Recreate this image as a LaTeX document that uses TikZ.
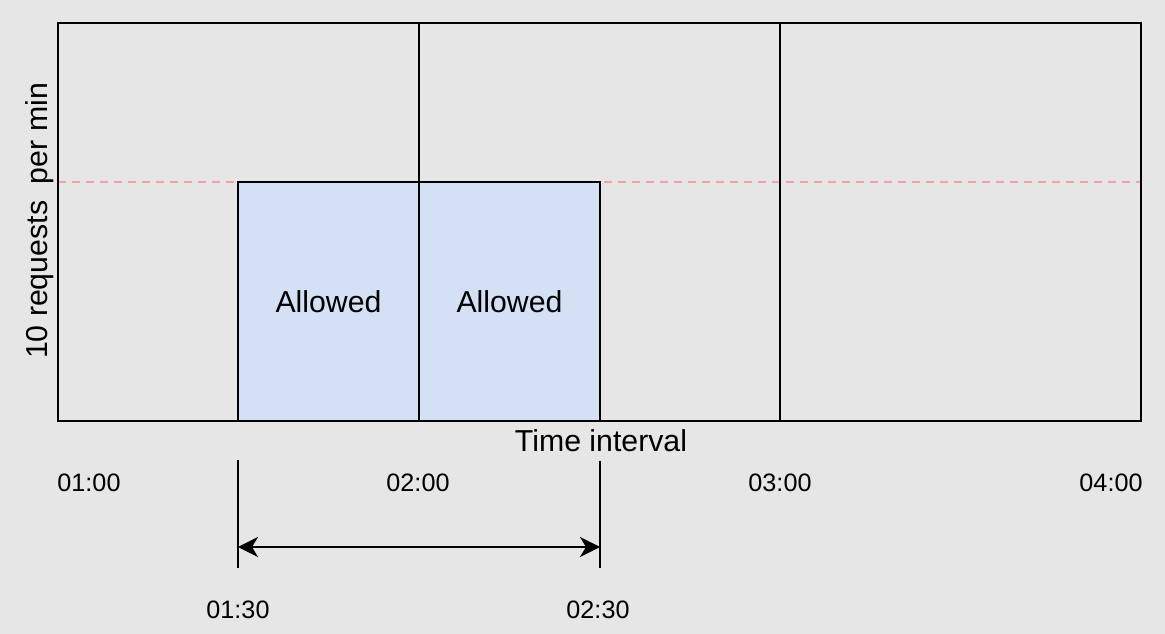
\documentclass[tikz,border=0pt]{standalone}
\usepackage{fontspec}
\setmainfont{Liberation Sans}
\usetikzlibrary{arrows.meta}
\definecolor{bg}{HTML}{E6E6E6}
\definecolor{boxfill}{HTML}{D4E1F5}
\definecolor{limitred}{HTML}{EFA3A3}
\tikzset{
  frame/.style={draw=black, line width=1.8pt},
  allowbox/.style={draw=black, line width=1.8pt, fill=boxfill, inner sep=0pt,
    minimum width=181*0.75pt, minimum height=239*0.75pt,
    font=\fontsize{22.7pt}{27pt}\selectfont},
  biglabel/.style={inner sep=0pt, font=\fontsize{22.7pt}{27pt}\selectfont},
  timelabel/.style={inner sep=0pt, font=\fontsize{18.9pt}{22pt}\selectfont},
  tick/.style={draw=black, line width=1.6pt},
  limit/.style={draw=limitred, line width=1.3pt, dash pattern=on 6pt off 4.5pt},
  span/.style={draw=black, line width=1.6pt, {Stealth[length=15pt,width=15pt,inset=4.5pt]}-{Stealth[length=15pt,width=15pt,inset=4.5pt]}}
}
\begin{document}
\begin{tikzpicture}[x=0.75pt, y=-0.75pt]
\fill[bg] (0,0) rectangle (1165,634);
\useasboundingbox (0,0) rectangle (1165,634);
% frame and grid
\coordinate (tl) at (58,23);
\coordinate (br) at (1141,421);
\coordinate (v1t) at (419,23);
\coordinate (v1b) at (419,421);
\coordinate (v2t) at (780,23);
\coordinate (v2b) at (780,421);
\coordinate (rl) at (58,182);
\coordinate (rr) at (1141,182);
\draw[limit] (rl) -- (rr);
\draw[frame] (tl) rectangle (br);
\draw[frame] (v1t) -- (v1b);
\draw[frame] (v2t) -- (v2b);
% allowed boxes
\node[allowbox] (a1) at (328.5,301.5) {Allowed};
\node[allowbox] (a2) at (509.5,301.5) {Allowed};
% labels
\node[biglabel, rotate=90] (ylab) at (40,221) {10 requests\ \ per min};
\node[biglabel] (xlab) at (601,441) {Time interval};
\node[timelabel] (t1) at (89,483) {01:00};
\node[timelabel] (t2) at (418,483) {02:00};
\node[timelabel] (t3) at (780,483) {03:00};
\node[timelabel] (t4) at (1111,483) {04:00};
\node[timelabel] (t5) at (238,610) {01:30};
\node[timelabel] (t6) at (598,610) {02:30};
% span marker
\coordinate (k1t) at (238,460);
\coordinate (k1b) at (238,568);
\coordinate (k2t) at (600,461);
\coordinate (k2b) at (600,568);
\draw[tick] (k1t) -- (k1b);
\draw[tick] (k2t) -- (k2b);
\coordinate (s1) at (238,547);
\coordinate (s2) at (600,547);
\draw[span] (s1) -- (s2);
\end{tikzpicture}
\end{document}
